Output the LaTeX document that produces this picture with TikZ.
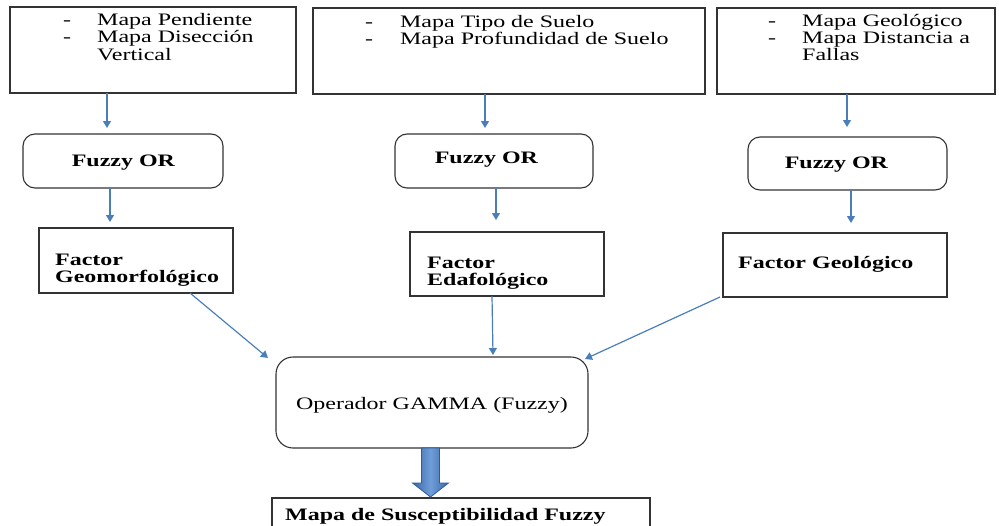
\documentclass[tikz,border=0pt]{standalone}
\usepackage{fontspec}
\setmainfont[FakeStretch=1.37]{Liberation Serif}
\usetikzlibrary{arrows.meta,calc}
\definecolor{arrowblue}{HTML}{4A7EBB}
\definecolor{bigedge}{HTML}{2E5C94}
\definecolor{bigdark}{HTML}{3A69AA}
\definecolor{biglight}{HTML}{6F9DD8}
\begin{document}
\begin{tikzpicture}[x=1pt,y=-1pt,
  every node/.style={font=\fontsize{17.5}{17}\selectfont, text=black},
  box/.style={draw=black!80, line width=1.1pt, inner sep=0pt, outer sep=0pt, anchor=north west},
  rbox/.style={box, rounded corners=12pt},
  txt/.style={inner sep=0pt, anchor=base west},
  conn/.style={draw=arrowblue, line width=1.2pt, -{Triangle[width=8pt,length=7pt]}}]
\useasboundingbox (0,0) rectangle (999,525);
% top boxes
\node[box, minimum width=286pt, minimum height=86pt] (b1) at (10,7) {};
\node[box, minimum width=392pt, minimum height=86pt] (b2) at (313,8) {};
\node[box, minimum width=278pt, minimum height=86pt] (b3) at (717,8) {};
\node[txt] (t1) at (63,25.5) {\begin{tabular}[t]{@{}p{34pt}@{}l@{}}-&Mapa Pendiente\\-&Mapa Disección\\&Vertical\end{tabular}};
\node[txt] (t2) at (365,27) {\begin{tabular}[t]{@{}p{35pt}@{}l@{}}-&Mapa Tipo de Suelo\\-&Mapa Profundidad de Suelo\end{tabular}};
\node[txt] (t3) at (768,26.5) {\begin{tabular}[t]{@{}p{34pt}@{}l@{}}-&Mapa Geológico\\-&Mapa Distancia a\\&Fallas\end{tabular}};
% fuzzy or
\node[rbox, minimum width=200pt, minimum height=54pt] (fo1) at (23,134) {};
\node[rbox, minimum width=198pt, minimum height=54pt] (fo2) at (395,134) {};
\node[rbox, minimum width=199pt, minimum height=53pt] (fo3) at (748,137) {};
\node[inner sep=0pt, anchor=base] (fot1) at (123.5,166) {\textbf{Fuzzy OR}};
\node[inner sep=0pt, anchor=base] (fot2) at (486.5,163) {\textbf{Fuzzy OR}};
\node[inner sep=0pt, anchor=base] (fot3) at (836.5,168) {\textbf{Fuzzy OR}};
% factors
\node[box, minimum width=194pt, minimum height=65pt] (f1) at (39,228) {};
\node[box, minimum width=194pt, minimum height=64pt] (f2) at (410,232) {};
\node[box, minimum width=224pt, minimum height=64pt] (f3) at (723,233) {};
\node[txt] (ft1) at (55,265) {\begin{tabular}[t]{@{}l@{}}\textbf{Factor}\\\textbf{Geomorfológico}\end{tabular}};
\node[txt] (ft2) at (427,268) {\begin{tabular}[t]{@{}l@{}}\textbf{Factor}\\\textbf{Edafológico}\end{tabular}};
\node[txt] (ft3) at (738,268) {\textbf{Factor Geológico}};
% gamma
\node[box, rounded corners=17pt, minimum width=312pt, minimum height=91pt, anchor=north west] (gamma) at (276,357) {};
\node[inner sep=0pt, anchor=base] (gt) at (432,409.5) {Operador GAMMA (Fuzzy)};
% output
\node[box, minimum width=378pt, minimum height=40pt] (out) at (272,498) {};
\node[txt] (ot) at (285,520) {\textbf{Mapa de Susceptibilidad Fuzzy}};
% connectors
\draw[conn, shorten >=6pt] ([xshift=-46pt]b1.south) -- ([xshift=-16pt]fo1.north);
\draw[conn, shorten >=6pt] ([xshift=-13pt]fo1.south) -- ([xshift=-26pt]f1.north);
\draw[conn, shorten >=6pt] ([xshift=-24pt]b2.south) -- ([xshift=-9pt]fo2.north);
\draw[conn, shorten >=12pt] ([xshift=2pt]fo2.south) -- ([xshift=-11pt]f2.north);
\draw[conn, shorten >=10pt] ([xshift=-9pt]b3.south) -- ([xshift=-0.5pt]fo3.north);
\draw[conn, shorten >=10pt] ([xshift=3.5pt]fo3.south) -- ([xshift=16pt]f3.north);
\draw[conn] ([xshift=54pt]f1.south) -- ([xshift=-8pt,yshift=-1pt]gamma.north west);
\draw[conn] ([xshift=-15pt]f2.south) -- ([xshift=61pt,yshift=2pt]gamma.north);
\draw[conn] ([xshift=-3pt]f3.south west) -- ([xshift=-3pt,yshift=-2pt]gamma.north east);
% big arrow
\draw[draw=bigedge, line width=0.8pt, left color=bigdark, right color=bigdark, middle color=biglight]
  ($(gamma.south)+(-10.5,0)$) -- ($(gamma.south)+(7.5,0)$) -- ($(gamma.south)+(7.5,35)$)
  -- ($(gamma.south)+(16.5,35)$) -- ($(out.north)+(-30.5,-1)$) -- ($(gamma.south)+(-19.5,35)$)
  -- ($(gamma.south)+(-10.5,35)$) -- cycle;
\end{tikzpicture}
\end{document}
